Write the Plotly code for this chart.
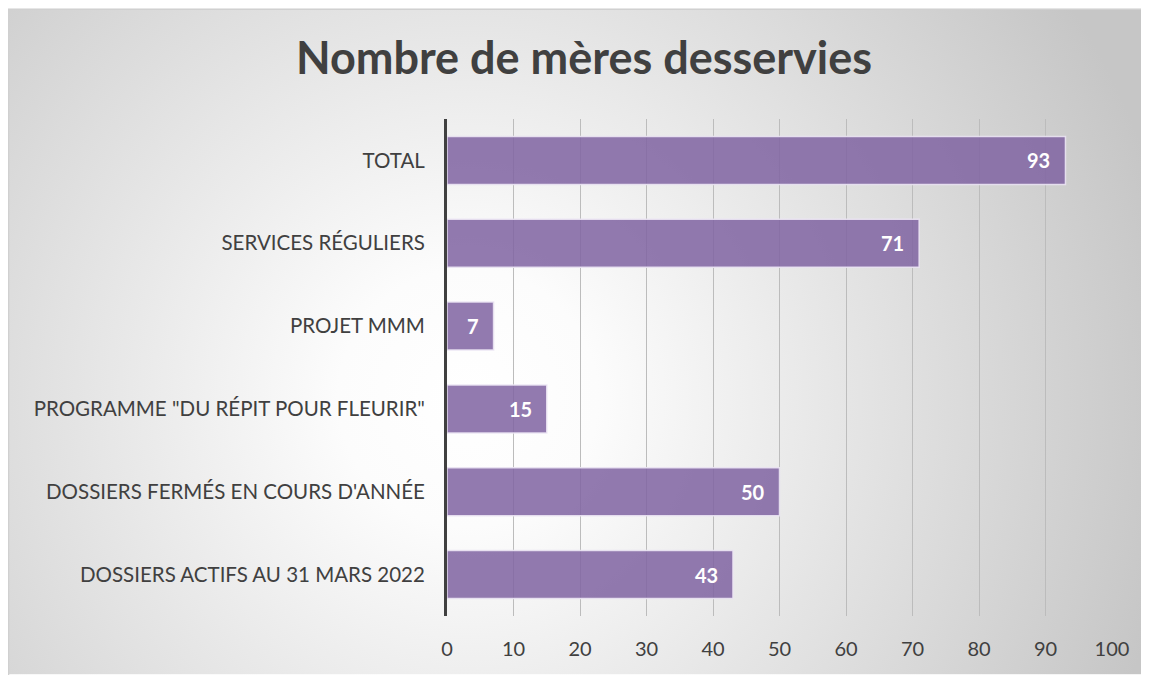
import plotly.graph_objects as go
import urllib.parse

categories = [
    "TOTAL",
    "SERVICES RÉGULIERS",
    "PROJET MMM",
    "PROGRAMME \"DU RÉPIT POUR FLEURIR\"",
    "DOSSIERS FERMÉS EN COURS D'ANNÉE",
    "DOSSIERS ACTIFS AU 31 MARS 2022",
]
values = [93, 71, 7, 15, 50, 43]
x_ticks = [0, 10, 20, 30, 40, 50, 60, 70, 80, 90, 100]

OFF = 8  # page body margin
W, H = 1149 - OFF, 675 - OFF
L, R, T, B = 447 - OFF, 1112 - OFF, 118.5 - OFF, 616.5 - OFF
pw, ph = R - L, B - T

svg = (
    f"<svg xmlns='http://www.w3.org/2000/svg' width='{W}' height='{H}' viewBox='0 0 {W} {H}' preserveAspectRatio='none'>"
    "<defs><radialGradient id='g' gradientUnits='userSpaceOnUse' cx='460' cy='390' r='720'>"
    "<stop offset='0' stop-color='#ffffff'/><stop offset='0.18' stop-color='#fcfcfc'/>"
    "<stop offset='1' stop-color='#c6c6c6'/></radialGradient></defs>"
    f"<rect width='{W}' height='{H}' fill='url(#g)'/></svg>"
)
src = "data:image/svg+xml;charset=utf-8," + urllib.parse.quote(svg)

fig = go.Figure()
fig.add_trace(go.Bar(
    y=categories, x=values, orientation="h",
    marker=dict(color="rgba(128,100,162,0.86)",
                line=dict(color="rgba(235,228,243,0.9)", width=1.5)),
    hoverinfo="x+y",
))

annotations = []
for c, v in zip(categories, values):
    annotations.append(dict(
        x=v, y=c, xref="x", yref="y", text=f"<b>{v}</b>", showarrow=False,
        xanchor="right", xshift=-13,
        font=dict(family="Lato", size=20, color="white"),
    ))

fig.update_layout(
    width=W, height=H,
    margin=dict(l=L, r=W - R, t=T, b=H - B, pad=0),
    paper_bgcolor="white",
    plot_bgcolor="rgba(0,0,0,0)",
    showlegend=False,
    bargap=0.42,
    title=dict(text="<b>Nombre de mères desservies</b>", x=(584 - OFF) / W, xanchor="center",
               y=1 - (58 - OFF) / H, yanchor="middle", yref="container",
               font=dict(family="Lato", size=45, color="#404040")),
    font=dict(family="Lato", color="#404040"),
    annotations=annotations,
    images=[dict(source=src, xref="paper", yref="paper",
                 x=-L / pw, y=B / ph, sizex=W / pw, sizey=H / ph,
                 xanchor="left", yanchor="top", sizing="stretch", layer="below")],
    shapes=[dict(type="rect", xref="paper", yref="paper",
                 x0=(-L + 0.5) / pw, x1=(W + 5 - L) / pw, y0=(B - H - 5) / ph, y1=(B - 0.5) / ph,
                 line=dict(color="#d0d0d0", width=1.5), layer="below")],
)
fig.update_xaxes(
    range=[0, 100], tickvals=x_ticks, ticktext=[str(t) for t in x_ticks],
    showgrid=True, gridcolor="#bcbcbc", gridwidth=1, zeroline=False,
    showline=False, ticks="outside", ticklen=15, tickcolor="rgba(0,0,0,0)",
    tickfont=dict(family="Lato", size=20, color="#404040"),
)
fig.update_yaxes(
    autorange="reversed", showgrid=False, zeroline=False,
    showline=True, linecolor="#404040", linewidth=3,
    ticks="outside", ticklen=15, tickcolor="rgba(0,0,0,0)",
    tickfont=dict(family="Lato", size=20.5, color="#404040"),
)

fig.write_html("out.html")
